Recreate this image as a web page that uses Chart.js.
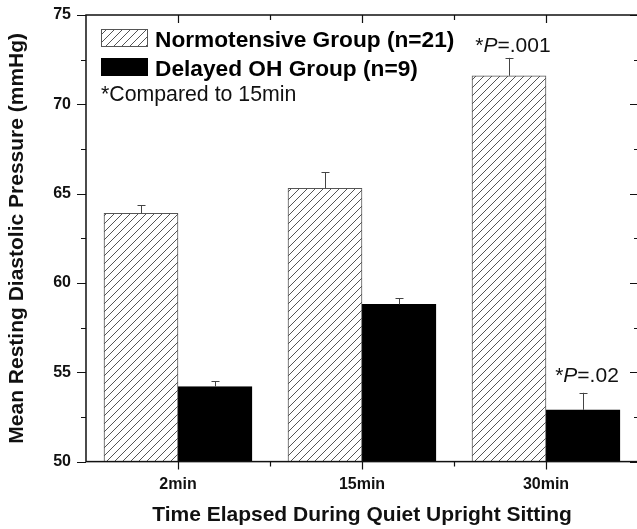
<!DOCTYPE html>
<html>
<head>
<meta charset="utf-8">
<script src="https://cdn.jsdelivr.net/npm/chart.js@4"></script>
<style>
  html, body { margin: 0; padding: 0; background: #fff; overflow: hidden; }
</style>
</head>
<body>
<canvas id="bpChart" width="640" height="529"></canvas>
<script>
// data
const categories = ['2min', '15min', '30min'];
const normoValues = [63.9, 65.3, 71.6];
const normoErr = [0.45, 0.9, 1.0];
const delayedValues = [54.2, 58.8, 52.9];
const delayedErr = [0.3, 0.35, 0.95];
const normoNotes = ['', '', '*P=.001'];
const delayedNotes = ['', '', '*P=.02'];
const seriesLabels = ['Normotensive Group (n=21)', 'Delayed OH Group (n=9)'];
const footNote = '*Compared to 15min';

const FONT = "'Liberation Sans', Arial, Helvetica, sans-serif";

// diagonal hatch fill
function makeHatch() {
    const s = 8;
    const c = document.createElement('canvas');
    c.width = s; c.height = s;
    const g = c.getContext('2d');
    g.fillStyle = '#fff';
    g.fillRect(0, 0, s, s);
    g.strokeStyle = '#555';
    g.lineWidth = 1;
    g.beginPath();
    g.moveTo(0, s); g.lineTo(s, 0);
    g.moveTo(-2, 2); g.lineTo(2, -2);
    g.moveTo(s - 2, s + 2); g.lineTo(s + 2, s - 2);
    g.stroke();
    return g.createPattern(c, 'repeat');
}
const hatch = makeHatch();

// frame + ticks on all four sides (major and minor)
const frameTicks = {
    id: 'frameTicks',
    afterDatasetsDraw(chart) {
        const {ctx, chartArea: a, scales: {x, y}} = chart;
        ctx.save();
        ctx.strokeStyle = '#111';
        ctx.lineWidth = 1.5;
        ctx.strokeRect(a.left, a.top, a.right - a.left, a.bottom - a.top);
        ctx.lineWidth = 1.2;
        ctx.beginPath();
        for (let v = y.min; v <= y.max + 0.01; v += 2.5) {
            const p = Math.round(y.getPixelForValue(v)) + 0.5;
            const major = Math.abs(v % 5) < 0.01;
            const len = major ? 9 : 5;
            ctx.moveTo(a.left - len, p); ctx.lineTo(a.left, p);
            ctx.moveTo(a.right, p); ctx.lineTo(a.right - len + 1, p);
        }
        for (let v = 1; v <= categories.length + 0.01; v += 0.5) {
            const p = Math.round(x.getPixelForValue(v)) + 0.5;
            const major = Math.abs(v % 1) < 0.01;
            const len = major ? 8 : 5;
            ctx.moveTo(p, a.bottom); ctx.lineTo(p, a.bottom + len);
            ctx.moveTo(p, a.top); ctx.lineTo(p, a.top + len);
        }
        ctx.stroke();
        ctx.restore();
    }
};

// one-sided error bars and significance notes
const errorBars = {
    id: 'errorBars',
    afterDatasetsDraw(chart) {
        const {ctx, scales: {y}} = chart;
        ctx.save();
        chart.data.datasets.forEach((ds, i) => {
            const meta = chart.getDatasetMeta(i);
            meta.data.forEach((bar, j) => {
                const v = ds.data[j].y;
                const top = y.getPixelForValue(v + ds.errors[j]);
                const cx = Math.round(bar.x) + 0.5;
                ctx.strokeStyle = '#444';
                ctx.lineWidth = 1;
                ctx.beginPath();
                ctx.moveTo(cx, bar.y);
                ctx.lineTo(cx, top);
                ctx.moveTo(cx - 4, Math.round(top) + 0.5);
                ctx.lineTo(cx + 4, Math.round(top) + 0.5);
                ctx.stroke();

                const note = ds.notes[j];
                if (!note) return;
                const parts = [['*', 'normal'], ['P', 'italic'], [note.slice(2), 'normal']];
                let w = 0;
                parts.forEach(p => { ctx.font = p[1] + ' 21px ' + FONT; w += ctx.measureText(p[0]).width; });
                let tx = bar.x + 4 - w / 2;
                const ty = top - ds.noteGap;
                ctx.fillStyle = '#111';
                ctx.textBaseline = 'alphabetic';
                ctx.textAlign = 'left';
                parts.forEach(p => {
                    ctx.font = p[1] + ' 21px ' + FONT;
                    ctx.fillText(p[0], tx, ty);
                    tx += ctx.measureText(p[0]).width;
                });
            });
        });
        ctx.restore();
    }
};

// legend inside the plot area
const innerLegend = {
    id: 'innerLegend',
    afterDraw(chart) {
        const {ctx, chartArea: a} = chart;
        const x0 = a.left + 15;
        ctx.save();
        chart.data.datasets.forEach((ds, i) => {
            const by = a.top + 14 + i * 29;
            ctx.fillStyle = ds.backgroundColor;
            ctx.fillRect(x0, by, 47, 18);
            ctx.strokeStyle = ds.borderColor;
            ctx.lineWidth = 1;
            ctx.strokeRect(x0 + 0.5, by + 0.5, 46, 17);
            ctx.fillStyle = '#000';
            ctx.font = 'bold 22.7px ' + FONT;
            ctx.textBaseline = 'alphabetic';
            ctx.fillText(ds.label, x0 + 54, by + 18);
        });
        ctx.font = '21.3px ' + FONT;
        ctx.fillStyle = '#111';
        ctx.fillText(footNote, x0, a.top + 86);
        ctx.restore();
    }
};

const ctx = document.getElementById('bpChart').getContext('2d');
new Chart(ctx, {
    type: 'bar',
    data: {
        datasets: [{
            label: seriesLabels[0],
            data: categories.map((c, i) => ({x: i + 1, y: normoValues[i]})),
            errors: normoErr,
            notes: normoNotes,
            noteGap: 6,
            backgroundColor: hatch,
            borderColor: '#555',
            borderWidth: 1,
            borderSkipped: false,
            barThickness: 74
        }, {
            label: seriesLabels[1],
            data: categories.map((c, i) => ({x: i + 1, y: delayedValues[i]})),
            errors: delayedErr,
            notes: delayedNotes,
            noteGap: 11,
            backgroundColor: '#000',
            borderColor: '#000',
            borderWidth: 1,
            barThickness: 74
        }]
    },
    options: {
        responsive: false,
        animation: false,
        layout: { padding: { top: 15, right: 2, left: 0, bottom: 0 } },
        scales: {
            x: {
                type: 'linear',
                offset: false,
                min: 0.5,
                max: categories.length + 0.5,
                afterBuildTicks: scale => {
                    scale.ticks = categories.map((c, i) => ({value: i + 1}));
                },
                // ticks themselves are drawn by the frameTicks plugin
                grid: { display: false, drawTicks: true, tickLength: 10, offset: false },
                border: { display: false },
                ticks: {
                    padding: 3,
                    maxRotation: 0,
                    color: '#111',
                    font: { family: FONT, size: 16, weight: 'bold' },
                    callback: v => categories[Math.round(v) - 1]
                },
                title: {
                    display: true,
                    text: 'Time Elapsed During Quiet Upright Sitting',
                    color: '#111',
                    font: { family: FONT, size: 21, weight: 'bold' },
                    padding: { top: 6, bottom: 1 }
                }
            },
            y: {
                min: 50,
                max: 75,
                grid: { display: false, drawTicks: true, tickLength: 11 },
                border: { display: false },
                ticks: {
                    stepSize: 5,
                    padding: 4,
                    color: '#111',
                    font: { family: FONT, size: 16, weight: 'bold' }
                },
                title: {
                    display: true,
                    text: 'Mean Resting Diastolic Pressure (mmHg)',
                    color: '#111',
                    font: { family: FONT, size: 21, weight: 'bold' },
                    padding: { top: 5, bottom: 19 }
                }
            }
        },
        plugins: {
            legend: { display: false },
            tooltip: { enabled: false }
        }
    },
    plugins: [frameTicks, errorBars, innerLegend]
});
</script>
</body>
</html>
